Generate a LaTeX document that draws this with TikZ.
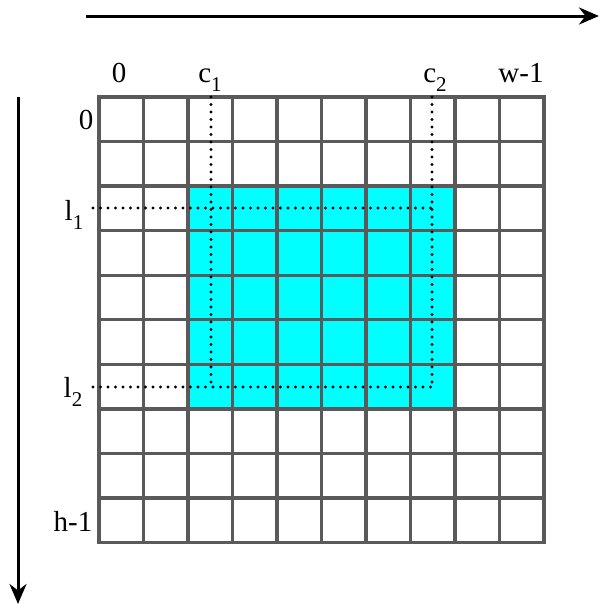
\documentclass[tikz,border=0pt]{standalone}
\usepackage{fontspec}
\setmainfont{Liberation Serif}
\usetikzlibrary{arrows.meta}
\newcommand{\subn}[2]{#1\raisebox{-0.3em}{\fontsize{21}{21}\selectfont #2}}
\begin{document}
\begin{tikzpicture}[x=1pt,y=-1pt,
  gridline/.style={draw={rgb,255:red,90;green,90;blue,90},line width=3.3pt},
  dotline/.style={draw=black,line width=3.2pt,line cap=round,dash pattern=on 0pt off 7.5pt},
  axis/.style={draw=black,line width=3pt,-{Stealth[length=20pt,width=17pt]}},
  lbl/.style={font=\fontsize{29}{29}\selectfont,inner sep=0pt}]
\useasboundingbox (0,0) rectangle (600,605);
\definecolor{cyanfill}{RGB}{0,255,255}
% cyan region
\fill[cyanfill] (188,186.2) rectangle (455,408.8);
% grid
\foreach \i in {0,...,10}{
  \draw[gridline] ({99+44.5*\i},97) -- ({99+44.5*\i},542.5);
  \draw[gridline] (97.4,{97+44.55*\i}) -- (545.6,{97+44.55*\i});
}
% dotted lines
\coordinate (c1t) at (211,97);
\coordinate (c1b) at (211,387);
\coordinate (c2t) at (432,97);
\coordinate (c2b) at (432,387);
\coordinate (l1s) at (93,208);
\coordinate (l1e) at (432,208);
\coordinate (l2s) at (93,387);
\coordinate (l2e) at (432,387);
\draw[dotline] (c1t) -- (c1b);
\draw[dotline] (c2t) -- (c2b);
\draw[dotline] (l1s) -- (l1e);
\draw[dotline] (l2s) -- (l2e);
% axes
\coordinate (hx0) at (86,16);
\coordinate (hx1) at (599,16);
\coordinate (vy0) at (18,97);
\coordinate (vy1) at (18,604);
\draw[axis] (hx0) -- (hx1);
\draw[axis] (vy0) -- (vy1);
% labels
\node[lbl] (t0) at (119,73) {0};
\node[lbl] (tc1) at (210,80) {\subn{c}{1}};
\node[lbl] (tc2) at (435,80) {\subn{c}{2}};
\node[lbl] (tw) at (521,73) {w-1};
\node[lbl] (s0) at (86,120) {0};
\node[lbl] (sl1) at (74,215) {\subn{l}{1}};
\node[lbl] (sl2) at (73,392) {\subn{l}{2}};
\node[lbl] (sh) at (73,521) {h-1};
\end{tikzpicture}
\end{document}
